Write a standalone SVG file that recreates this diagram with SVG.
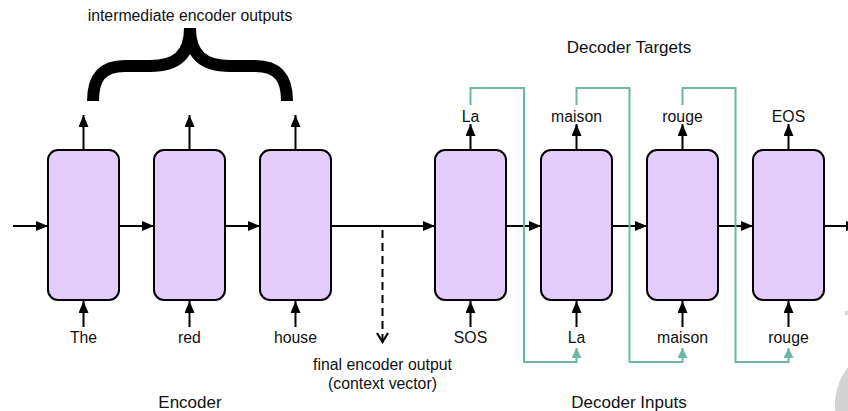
<svg xmlns="http://www.w3.org/2000/svg" width="848" height="411" viewBox="0 0 848 411">
  <defs>
    <style>
      .cell { fill: #e2cdfd; stroke: #000; stroke-width: 2; }
      .flow { fill: none; stroke: #000; stroke-width: 2; }
      .feed { fill: none; stroke: #6db5a5; stroke-width: 2; }
      .lbl { font-family: "Liberation Sans", Arial, sans-serif; font-size: 15.8px; fill: #111; text-anchor: middle; }
      .title { font-family: "Liberation Sans", Arial, sans-serif; font-size: 17px; fill: #111; text-anchor: middle; }
    </style>
    <marker id="arr" markerUnits="userSpaceOnUse" markerWidth="12" markerHeight="10" refX="12" refY="5" orient="auto">
      <path d="M0,0 L12,5 L0,10 z" fill="#000"/>
    </marker>
    <marker id="arrT" markerUnits="userSpaceOnUse" markerWidth="10" markerHeight="10" refX="10" refY="5" orient="auto">
      <path d="M0,0 L10,5 L0,10 z" fill="#6db5a5"/>
    </marker>
  </defs>

  <!-- corner decoration -->
  <circle cx="897" cy="405" r="62" fill="#d3d3d3"/>
  <rect x="845" y="311" width="3" height="4" fill="#d8d8d8"/>

  <!-- brace over the encoder outputs -->
  <g id="brace">
    <path d="M93,101 C93,80 100,66 125,66 L150,66 C176,66 190,55 190,28" fill="none" stroke="#000" stroke-width="12"/>
    <path d="M287,101 C287,80 280,66 255,66 L230,66 C204,66 190,55 190,28" fill="none" stroke="#000" stroke-width="12"/>
  </g>

  <!-- connectors -->
  <g id="connectors">
    <!-- recurrent chain -->
    <line class="flow" x1="13" y1="226" x2="48" y2="226" marker-end="url(#arr)"/>
    <line class="flow" x1="119" y1="226" x2="154" y2="226" marker-end="url(#arr)"/>
    <line class="flow" x1="225" y1="226" x2="260" y2="226" marker-end="url(#arr)"/>
    <line class="flow" x1="331" y1="226" x2="435" y2="226" marker-end="url(#arr)"/>
    <line class="flow" x1="506" y1="226" x2="541" y2="226" marker-end="url(#arr)"/>
    <line class="flow" x1="612" y1="226" x2="647" y2="226" marker-end="url(#arr)"/>
    <line class="flow" x1="718" y1="226" x2="753" y2="226" marker-end="url(#arr)"/>
    <line class="flow" x1="824" y1="226" x2="858" y2="226" marker-end="url(#arr)"/>

    <!-- encoder outputs -->
    <line class="flow" x1="83.5" y1="150" x2="83.5" y2="115" marker-end="url(#arr)"/>
    <line class="flow" x1="189.5" y1="150" x2="189.5" y2="115" marker-end="url(#arr)"/>
    <line class="flow" x1="295.5" y1="150" x2="295.5" y2="115" marker-end="url(#arr)"/>

    <!-- decoder outputs -->
    <line class="flow" x1="470.5" y1="150" x2="470.5" y2="124" marker-end="url(#arr)"/>
    <line class="flow" x1="576.5" y1="150" x2="576.5" y2="124" marker-end="url(#arr)"/>
    <line class="flow" x1="682.5" y1="150" x2="682.5" y2="124" marker-end="url(#arr)"/>
    <line class="flow" x1="788.5" y1="150" x2="788.5" y2="124" marker-end="url(#arr)"/>

    <!-- inputs -->
    <line class="flow" x1="83.5" y1="327" x2="83.5" y2="301" marker-end="url(#arr)"/>
    <line class="flow" x1="189.5" y1="327" x2="189.5" y2="301" marker-end="url(#arr)"/>
    <line class="flow" x1="295.5" y1="327" x2="295.5" y2="301" marker-end="url(#arr)"/>
    <line class="flow" x1="470.5" y1="327" x2="470.5" y2="301" marker-end="url(#arr)"/>
    <line class="flow" x1="576.5" y1="327" x2="576.5" y2="301" marker-end="url(#arr)"/>
    <line class="flow" x1="682.5" y1="327" x2="682.5" y2="301" marker-end="url(#arr)"/>
    <line class="flow" x1="788.5" y1="327" x2="788.5" y2="301" marker-end="url(#arr)"/>

    <!-- context vector -->
    <line x1="382.5" y1="230" x2="382.5" y2="341" stroke="#000" stroke-width="2" stroke-dasharray="8,5"/>
    <path d="M377,333 L382.5,342 L388,333" fill="none" stroke="#000" stroke-width="2.2"/>

    <!-- teacher forcing: targets fed back as next inputs -->
    <path class="feed" d="M470.5,105 V88 H524 V362 H576.5 V348" marker-end="url(#arrT)"/>
    <path class="feed" d="M576.5,105 V88 H629.5 V362 H682.5 V348" marker-end="url(#arrT)"/>
    <path class="feed" d="M682.5,105 V88 H735.5 V362 H788.5 V348" marker-end="url(#arrT)"/>
  </g>

  <!-- encoder cells -->
  <g id="enc1"><rect class="cell" x="48" y="150" width="71" height="150" rx="10"/></g>
  <g id="enc2"><rect class="cell" x="154" y="150" width="71" height="150" rx="10"/></g>
  <g id="enc3"><rect class="cell" x="260" y="150" width="71" height="150" rx="10"/></g>

  <!-- decoder cells -->
  <g id="dec1"><rect class="cell" x="435" y="150" width="71" height="150" rx="10"/></g>
  <g id="dec2"><rect class="cell" x="541" y="150" width="71" height="150" rx="10"/></g>
  <g id="dec3"><rect class="cell" x="647" y="150" width="71" height="150" rx="10"/></g>
  <g id="dec4"><rect class="cell" x="753" y="150" width="71" height="150" rx="10"/></g>

  <!-- labels -->
  <g id="labels">
    <text class="lbl" x="190" y="21">intermediate encoder outputs</text>
    <text class="title" x="629" y="53">Decoder Targets</text>

    <text class="lbl" x="470.5" y="122">La</text>
    <text class="lbl" x="576.5" y="122">maison</text>
    <text class="lbl" x="682.5" y="122">rouge</text>
    <text class="lbl" x="788.5" y="122">EOS</text>

    <text class="lbl" x="83.5" y="343">The</text>
    <text class="lbl" x="189.5" y="343">red</text>
    <text class="lbl" x="295.5" y="343">house</text>
    <text class="lbl" x="470.5" y="343">SOS</text>
    <text class="lbl" x="576.5" y="343">La</text>
    <text class="lbl" x="682.5" y="343">maison</text>
    <text class="lbl" x="788.5" y="343">rouge</text>

    <text class="lbl" x="382.5" y="370">final encoder output</text>
    <text class="lbl" x="382.5" y="389">(context vector)</text>

    <text class="title" x="190" y="408">Encoder</text>
    <text class="title" x="629" y="408">Decoder Inputs</text>
  </g>
</svg>
